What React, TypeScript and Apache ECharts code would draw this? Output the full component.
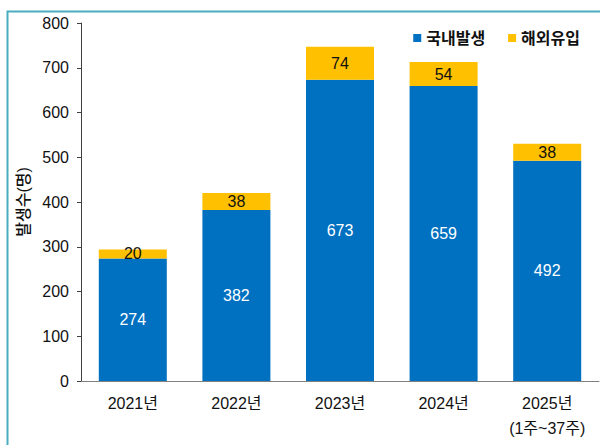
import React, { useEffect, useRef } from "react";
import * as echarts from "echarts";

const categories = ["2021년", "2022년", "2023년", "2024년", "2025년\n(1주~37주)"];
const domestic = [274, 382, 673, 659, 492];
const imported = [20, 38, 74, 54, 38];
const seriesNames = ["국내발생", "해외유입"];
const yAxisName = "발생수(명)";

const FONT = "'Liberation Sans', 'Noto Sans CJK KR', sans-serif";

export default function App() {
  const ref = useRef<HTMLDivElement>(null);
  useEffect(() => {
    if (!ref.current) return;
    const chart = echarts.init(ref.current, null, { renderer: "svg" });
    chart.setOption({
      animation: false,
      backgroundColor: "#ffffff",
      textStyle: { fontFamily: FONT },
      graphic: [
        {
          type: "rect",
          left: 5,
          top: 9,
          shape: { width: 700, height: 700 },
          style: { fill: "none", stroke: "#4AADC2", lineWidth: 2 },
          silent: true,
        },
      ],
      legend: {
        right: 15,
        top: 25,
        itemWidth: 8,
        itemHeight: 8,
        itemGap: 23,
        icon: "rect",
        textStyle: { fontSize: 16, fontWeight: "bold", color: "#111", fontFamily: FONT },
        data: seriesNames,
      },
      grid: { left: 81, right: 1, top: 23, bottom: 64 },
      xAxis: {
        type: "category",
        data: categories,
        axisLine: { lineStyle: { color: "#808080", width: 1 } },
        axisTick: { show: false },
        axisLabel: {
          fontSize: 16,
          color: "#111",
          margin: 10,
          lineHeight: 25,
          fontFamily: FONT,
        },
      },
      yAxis: {
        type: "value",
        min: 0,
        max: 800,
        interval: 100,
        name: yAxisName,
        nameLocation: "middle",
        nameRotate: 90,
        nameGap: 48,
        nameTextStyle: { fontSize: 16, fontWeight: 500, color: "#111", fontFamily: FONT },
        axisLine: { show: true, lineStyle: { color: "#404040", width: 1 } },
        axisTick: { show: true, length: 4, lineStyle: { color: "#404040" } },
        axisLabel: { fontSize: 16, color: "#111", margin: 12, fontFamily: FONT },
        splitLine: { show: false },
      },
      series: [
        {
          name: seriesNames[0],
          type: "bar",
          stack: "total",
          data: domestic,
          barWidth: 68,
          itemStyle: { color: "#0070C0" },
          label: {
            show: true,
            position: "inside",
            color: "#ffffff",
            fontSize: 16,
            fontFamily: FONT,
          },
        },
        {
          name: seriesNames[1],
          type: "bar",
          stack: "total",
          data: imported,
          barWidth: 68,
          itemStyle: { color: "#FFC000" },
          label: {
            show: true,
            position: "inside",
            color: "#111111",
            fontSize: 16,
            fontFamily: FONT,
          },
        },
      ],
    });
    return () => chart.dispose();
  }, []);
  return (
    <div
      ref={ref}
      style={{ position: "absolute", left: 0, top: 0, width: 600, height: 445, background: "#fff" }}
    />
  );
}
